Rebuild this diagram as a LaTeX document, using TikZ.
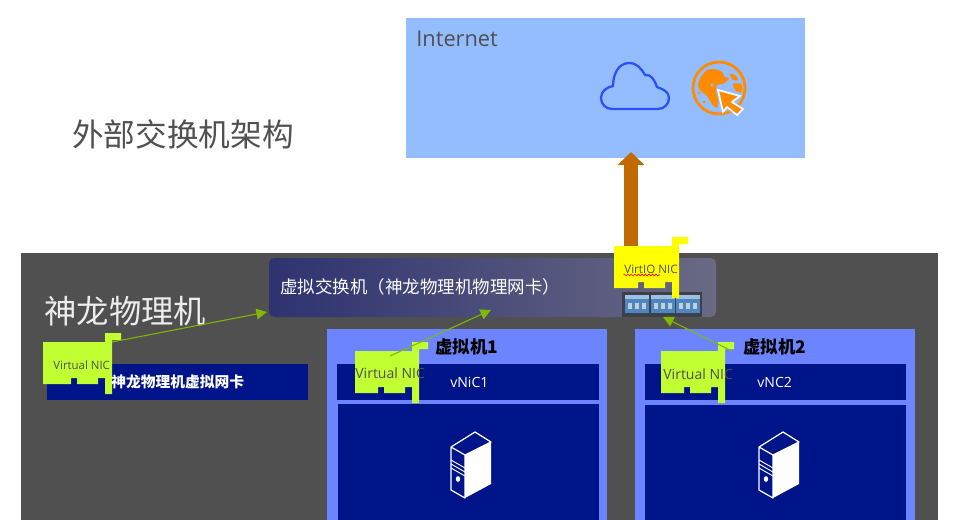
\documentclass[tikz,border=0pt]{standalone}
\usepackage{fontspec}
\setmainfont{Open Sans}
\newfontfamily\cjk{Noto Sans CJK SC}
\usetikzlibrary{arrows.meta, decorations.pathmorphing, fit, positioning}

\definecolor{panelgrey}{HTML}{505050}
\definecolor{skyblue}{HTML}{94BDFF}
\definecolor{vmblue}{HTML}{6C84FF}
\definecolor{navyblue}{HTML}{001489}
\definecolor{nicgreen}{HTML}{C1FF33}
\definecolor{nicyellow}{HTML}{FFFF00}
\definecolor{linkgreen}{HTML}{7FBA00}
\definecolor{uplink}{HTML}{C06A00}
\definecolor{globeorange}{HTML}{FF8C00}
\definecolor{cloudblue}{HTML}{2B50FF}
\definecolor{switchleft}{HTML}{2E3270}
\definecolor{switchright}{HTML}{6A6A84}
\definecolor{portsback}{HTML}{3C4148}
\definecolor{portbody}{HTML}{4E87C0}
\definecolor{porthead}{HTML}{9FC0E0}
\definecolor{porticon}{HTML}{C0D0DC}

\tikzset{
  box/.style={inner sep=0, outer sep=0, fill=#1},
  link/.style={linkgreen, line width=0.6pt, -{Triangle[length=6pt, width=6pt]}},
  niclabel/.style={text=panelgrey, inner sep=0, font=\fontsize{#1}{#1}\selectfont},
  cjklabel/.style={inner sep=0, font=\cjk\fontsize{#1}{#1}\selectfont},
  pics/niccard/.style 2 args={code={
    \fill[#2] (0,0) -- (#1,0) -- (#1,-9) -- (#1+16,-9) -- (#1+16,-2) -- (#1+7,-2)
      -- (#1+7,52) -- (#1,52) -- (#1,42) -- (#1,36) -- (#1-7,36) -- (#1-7,42)
      -- (#1-28,42) -- (#1-28,36) -- (#1-34,36) -- (#1-34,42) -- (0,42) -- cycle;
  }},
  pics/servericon/.style={code={
    \draw[white, line width=0.7pt, line join=round]
      (0,15) -- (24,0) -- (40,10) -- (14,23) -- cycle
      (0,15) -- (0,58) -- (14,66) -- (14,23);
    \fill[white] (14,23) -- (40,10) -- (40,52) -- (14,66) -- cycle;
    \draw[white, line width=0.5pt]
      (0,28) -- (14,36)  (0,32) -- (14,40)  (0,36) -- (14,44);
    \fill[white] (7,47) ellipse (2.2 and 2.8);
  }},
}

\begin{document}
\begin{tikzpicture}[x=0.02cm, y=-0.02cm]
      \useasboundingbox (0,0) rectangle (973,520);

      % Internet
      \node[box=skyblue, fit={(406,18) (805,158)}] (internet) {};
      \node[niclabel=12.4, anchor=west] (internetlabel) at (416,39) {Internet};

      % Cloud
      \draw[cloudblue, line width=1.3pt] (612,109)
           -- (658,109)
           to[out=0,   in=270] (669,98)
           to[out=90,  in=-20] (657,87)
           to[out=110, in=10]  (645,75)
           to[out=120, in=0]   (629,63)
           to[out=180, in=90]  (613,86)
           to[out=190, in=90]  (601,98)
           to[out=270, in=180] (612,109);

      % Globe and cursor
      \draw[globeorange, line width=1.6pt] (719,88) circle (26);
      \fill[globeorange] plot[smooth cycle, tension=0.5] coordinates
           {(701,77) (707,70) (714,69) (721,71) (725,77) (729,78) (726,82) (722,84)
            (717,85) (716,92) (718,100) (717,108) (712,104) (707,96) (700,90) (698,84)};
      \fill[globeorange] plot[smooth cycle, tension=0.5] coordinates
           {(730,74) (735,75) (738,80) (733,80)};
      \fill[globeorange] plot[smooth cycle, tension=0.5] coordinates
           {(733,84) (741,84) (742,92) (736,91)};
      \fill[skyblue] (712,85) circle (1.6);
      \fill[globeorange] (699,93) circle (1.5);
      \fill[globeorange] (704,102) circle (1.5);
      \filldraw[fill=globeorange, draw=white!90!skyblue, line width=1pt, line join=miter]
           (718,90) -- (740,96) -- (732,102) -- (743,109) -- (737,115)
           -- (727,107) -- (723,112) -- cycle;

      % Title
      \node[cjklabel=18, text=panelgrey, anchor=west] (title) at (72,134) {外部交换机架构};

      % Physical host
      \node[box=panelgrey, fit={(21,253) (938,520)}] (host) {};
      \node[cjklabel=18.4, text=white!93!black, anchor=west] (hostlabel) at (44,311) {神龙物理机};

      % Virtual switch
      \node[inner sep=0, outer sep=0, rounded corners=3pt, left color=switchleft,
            right color=switchright, fit={(269,258) (716,317)}] (vswitch) {};
      \node[cjklabel=9.95, text=white, anchor=west] (vswitchlabel) at (280,287)
           {虚拟交换机（神龙物理机物理网卡）};

      % Small switch picture
      \node[box=portsback, fit={(622,292) (702,317)}] (ports) {};
      \foreach \px in {625,650.5,676} {
        \fill[portbody] (\px,295) rectangle +(24,18);
        \fill[porthead] (\px,295) rectangle +(24,4);
        \foreach \py in {3,10,17}
          \fill[porticon] (\px+\py,303) rectangle +(4,6);
      }

      % Virtual machines
      \node[box=navyblue, fit={(47,364) (308,400)}] (hostvnic) {};
      \node[box=vmblue,   fit={(327,329) (607,520)}] (vmone) {};
      \node[box=navyblue, fit={(337,364) (599,400)}] (vnicone) {};
      \node[box=navyblue, fit={(338,404) (599,520)}] (serverone) {};
      \node[box=vmblue,   fit={(635,329) (915,520)}] (vmtwo) {};
      \node[box=navyblue, fit={(645,364) (906,400)}] (vnictwo) {};
      \node[box=navyblue, fit={(645,405) (906,520)}] (servertwo) {};

      \pic at (451,432) {servericon};
      \pic at (759,432) {servericon};

      % Uplink, under the yellow card
      \coordinate (uplinkstart) at (631,250);
      \coordinate (uplinkend)   at (631,152);
      \draw[uplink, line width=0.27cm, -{Triangle[length=0.26cm, width=0.52cm]}]
           (uplinkstart) -- (uplinkend);

      % Cards
      \pic at (43,342)  {niccard={62}{nicgreen}};
      \pic at (355,351) {niccard={57}{nicgreen}};
      \pic at (661,351) {niccard={57}{nicgreen}};
      \pic at (614,246) {niccard={58}{nicyellow}};

      % Card labels
      \node[niclabel=6.5, anchor=west] (niczero)  at (53,365)  {Virtual NIC};
      \node[niclabel=8, anchor=west] (nicone)   at (355,373) {Virtual NIC};
      \node[niclabel=8, anchor=west] (nictwo)   at (663,374) {Virtual NIC};
      \node[niclabel=6.6, anchor=west] (virtio)   at (624,269) {VirtIO NIC};
      \draw[red, line width=0.35pt, decorate, decoration={zigzag, segment length=2pt, amplitude=0.5pt}]
           (623.5,275) -- (660,275);

      \node[cjklabel=8.4, text=white, anchor=west, font=\cjk\bfseries\fontsize{8.4}{8.4}\selectfont]
           (hostvniclabel) at (111,382) {神龙物理机虚拟网卡};
      \node[niclabel=8, text=white, anchor=west] (vnicc) at (450,382) {vNiC1};
      \node[niclabel=8, text=white, anchor=west] (vncc)  at (757,382) {vNC2};
      \node[inner sep=0, anchor=west, font=\cjk\bfseries\fontsize{9.9}{9.9}\selectfont]
           (vmonelabel) at (435,347) {虚拟机1};
      \node[inner sep=0, anchor=west, font=\cjk\bfseries\fontsize{9.9}{9.9}\selectfont]
           (vmtwolabel) at (743,347) {虚拟机2};

      % Links to the switch
      \coordinate (linkzero)  at (112,342);
      \coordinate (linkone)   at (390,356);
      \coordinate (linktwo)   at (732,351);
      \coordinate (switchzero) at (267,312);
      \coordinate (switchone)  at (491,310);
      \coordinate (switchtwo)  at (663,317);
      \draw[link] (linkzero) -- (switchzero);
      \draw[link] (linkone)  -- (switchone);
      \draw[link] (linktwo)  -- (switchtwo);
  \end{tikzpicture}
\end{document}
